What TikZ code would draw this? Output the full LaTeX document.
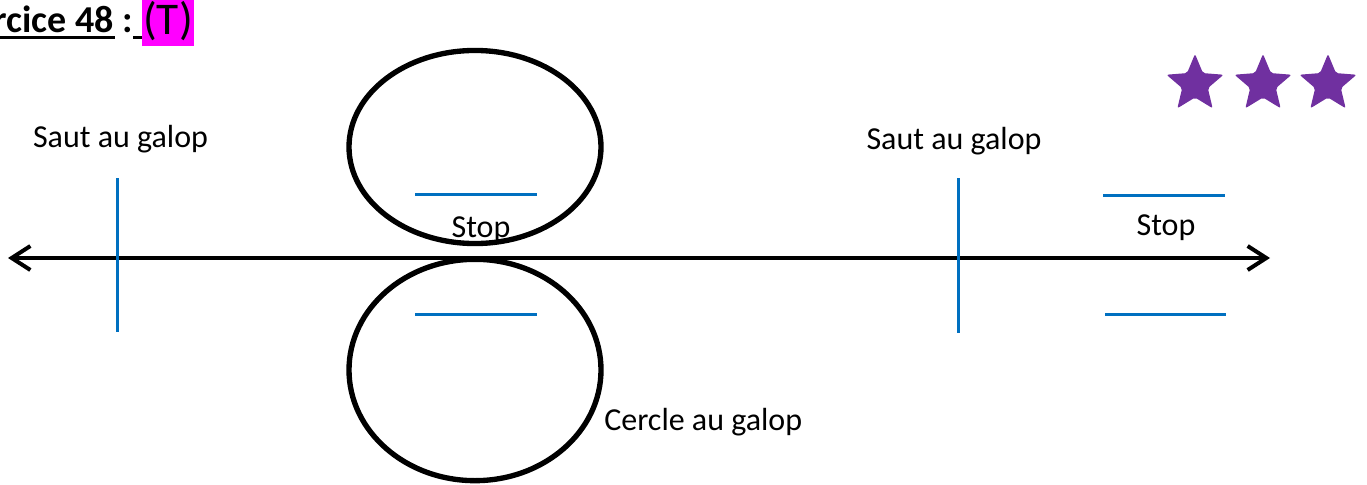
\documentclass[tikz,border=0pt]{standalone}
\usepackage{fontspec}
\setmainfont{Carlito}
\usetikzlibrary{arrows.meta}
\definecolor{oblue}{RGB}{0,112,192}
\definecolor{spurple}{RGB}{112,48,160}
\definecolor{hmag}{RGB}{255,0,255}
\begin{document}
\begin{tikzpicture}[x=0.75pt,y=-0.75pt,
  lbl/.style={font=\fontsize{24}{28}\selectfont, inner sep=0pt, anchor=base},
  circ/.style={draw=black, line width=4pt},
  bluel/.style={draw=oblue, line width=2.25pt},
  axisline/.style={line width=3pt, {Straight Barb[length=14pt,width=18pt]}-{Straight Barb[length=14pt,width=18pt]}},
  starf/.style={fill=spurple, rounded corners=1.5pt},
  uline/.style={line width=2.25pt}]
\useasboundingbox (0,0) rectangle (1367,485);
% title
\fill[hmag] (142,0) rectangle (194,46);
\node[anchor=base east, inner sep=0pt, font=\fontsize{28.5}{32}\selectfont\bfseries] (title) at (114,33) {Exercice 48};
\draw[uline] (0,38) -- (115,38);
\node[anchor=base, inner sep=0pt, font=\fontsize{28.5}{32}\selectfont\bfseries] (colon) at (127.5,33) {:};
\draw[uline] (133,38) -- (142,38);
\node[anchor=base, inner sep=0pt, font=\fontsize{34}{36}\selectfont] (tt) at (168,35) {(T)};
% stars
\foreach \c/\n in {1195/s1,1263/s2,1328/s3}{
  \begin{scope}[shift={(\c,84)}]
    \fill[starf] (270:30) -- (306:13.5) -- (342:30) -- (18:13.5) -- (54:30) -- (90:13.5) -- (126:30) -- (162:13.5) -- (198:30) -- (234:13.5) -- cycle;
  \end{scope}
}
% circles
\draw[circ] (475,147) ellipse [x radius=94.5pt, y radius=72.4pt];
\draw[circ] (475,370) ellipse [x radius=94.5pt, y radius=83pt];
% axis
\coordinate (aL) at (8,258);
\coordinate (aR) at (1270,258);
\draw[axisline] (aL) -- (aR);
% blue marks
\draw[bluel] (117,178) -- (117,332);
\draw[bluel] (958,178) -- (958,333);
\draw[bluel] (415,194) -- (537,194);
\draw[bluel] (415,314) -- (537,314);
\draw[bluel] (1103,195) -- (1225,195);
\draw[bluel] (1105,314) -- (1226,314);
% labels
\node[lbl] (saut1) at (120.5,147) {Saut au galop};
\node[lbl] (saut2) at (954,149) {Saut au galop};
\node[lbl] (stop1) at (481,237) {Stop};
\node[lbl] (stop2) at (1166,235) {Stop};
\node[lbl, anchor=base west] (cercle) at (604,430) {Cercle au galop};
\end{tikzpicture}
\end{document}
